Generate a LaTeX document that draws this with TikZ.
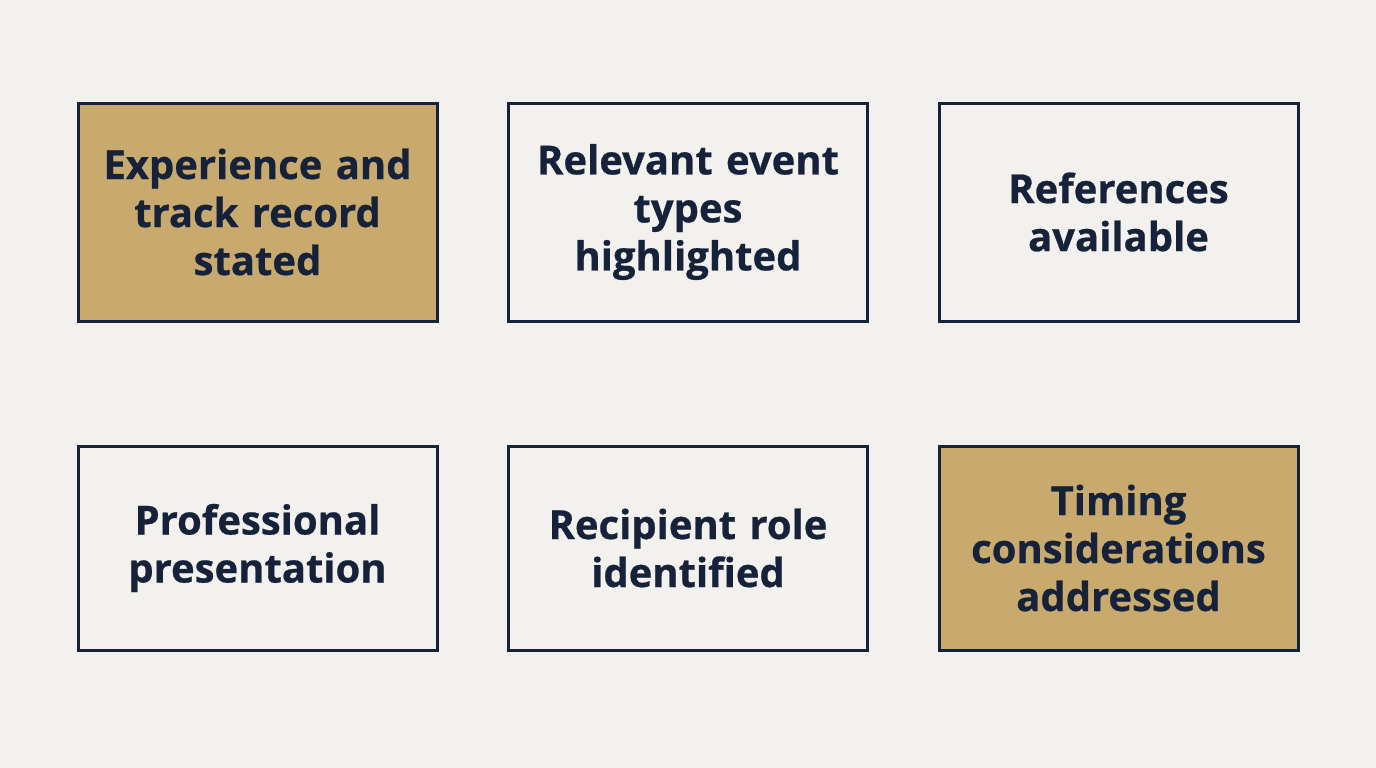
\documentclass[tikz,border=0pt]{standalone}
\usepackage{fontspec}
\setmainfont{Open Sans}[FakeBold=0.6]
\begin{document}
\definecolor{bg}{HTML}{F2F1EE}
\definecolor{ink}{HTML}{16213A}
\definecolor{gold}{HTML}{C9AA6E}
\begin{tikzpicture}[x=1pt,y=-1pt,
  box/.style={draw=ink,line width=3pt,minimum width=359pt,minimum height=#1,align=center,text=ink,
    font=\fontsize{40}{48}\selectfont\bfseries,inner sep=0pt,text width=350pt},
  box/.default=218pt]
\fill[bg] (0,0) rectangle (1376,768);
\useasboundingbox (0,0) rectangle (1376,768);
\node[box,fill=gold] (a) at (257.5,212) {Experience and\\track record\\stated};
\node[box,fill=bg] (b) at (688,212) {Relevant event\\types\\highlighted};
\node[box,fill=bg] (c) at (1118.5,212) {References\\available};
\node[box=204pt,fill=bg] (d) at (257.5,548) {Professional\\presentation};
\node[box=204pt,fill=bg] (e) at (688,548) {Recipient role\\identified};
\node[box=204pt,fill=gold] (f) at (1118.5,548) {Timing\\considerations\\addressed};
\end{tikzpicture}
\end{document}
